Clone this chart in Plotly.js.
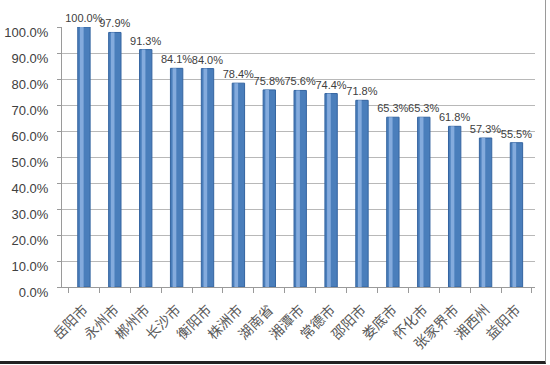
<!DOCTYPE html>
<html>
<head>
<meta charset="utf-8">
<script src="https://cdn.plot.ly/plotly-3.0.1.min.js"></script>
<style>
html,body{margin:0;padding:0;background:#fff;}
#frame{position:absolute;left:0;top:0;width:545px;height:361px;border-right:1px solid #9a9a9a;border-bottom:3px solid #222;}
#chart{position:absolute;left:0;top:0;width:550px;height:365px;}
</style>
</head>
<body>
<div id="frame"></div>
<div id="chart"></div>
<script>
const categories = ["岳阳市","永州市","郴州市","长沙市","衡阳市","株洲市","湖南省","湘潭市","常德市","邵阳市","娄底市","怀化市","张家界市","湘西州","益阳市"];
const values = [100.0, 97.9, 91.3, 84.1, 84.0, 78.4, 75.8, 75.6, 74.4, 71.8, 65.3, 65.3, 61.8, 57.3, 55.5];
const labels = values.map(v => v.toFixed(1) + "%");
const yTicks = [0,10,20,30,40,50,60,70,80,90,100];

const body = {
  type: "bar", x: categories, y: values,
  width: 0.4,
  marker: {color: "#4A7EBB", line: {color: "#3464A0", width: 1}},
  text: labels, textposition: "outside", cliponaxis: false, constraintext: "none",
  textfont: {family: "Liberation Sans, Arial, sans-serif", size: 11, color: "#404040"},
  hoverinfo: "skip"
};
const shine = {
  type: "bar", x: categories, y: values,
  width: 0.12, offset: -0.13,
  marker: {color: "#84ABDD", line: {width: 0}},
  hoverinfo: "skip"
};

const layout = {
  width: 550, height: 365,
  paper_bgcolor: "rgba(0,0,0,0)", plot_bgcolor: "rgba(0,0,0,0)",
  margin: {l: 62, r: 15, t: 27, b: 78},
  barmode: "overlay",
  showlegend: false,
  xaxis: {
    type: "category", range: [-0.71, 14.6],
    showgrid: false, showline: true, linecolor: "#9a9a9a", linewidth: 1,
    ticks: "outside", tickson: "boundaries", ticklen: 5, tickcolor: "#9a9a9a",
    tickangle: -45, ticklabelstandoff: 8,
    tickfont: {family: "Noto Sans CJK SC, sans-serif", size: 14, color: "#595959"}
  },
  yaxis: {
    range: [0, 100], tickvals: yTicks, ticktext: yTicks.map(v => v.toFixed(1) + "%"),
    showgrid: true, gridcolor: "#b8b8b8", gridwidth: 1,
    showline: true, linecolor: "#9a9a9a", linewidth: 1,
    ticks: "outside", ticklen: 4, tickcolor: "#9a9a9a", ticklabelstandoff: 6, ticklabelshift: 5,
    tickfont: {family: "Liberation Sans, Arial, sans-serif", size: 13, color: "#404040"},
    zeroline: false
  }
};

Plotly.newPlot("chart", [body, shine], layout, {displayModeBar: false, staticPlot: true});
</script>
</body>
</html>
